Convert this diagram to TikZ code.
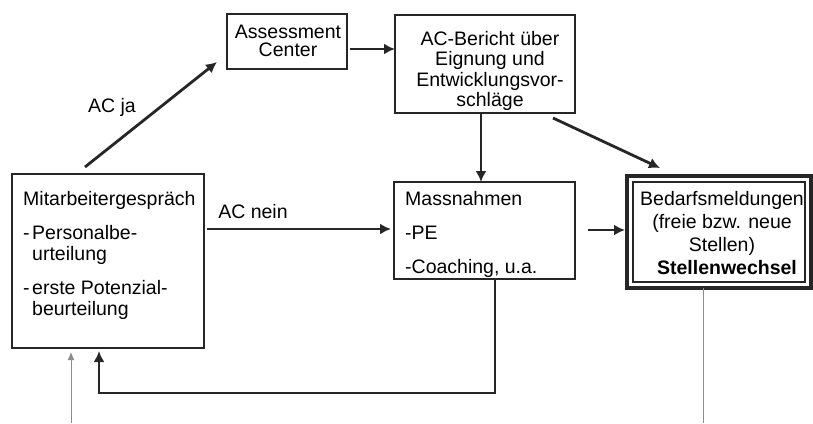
\documentclass[tikz,border=0pt]{standalone}
\usepackage{fontspec}
\setmainfont{Liberation Sans}
\usetikzlibrary{calc,arrows.meta}
\begin{document}
\begin{tikzpicture}[x=1pt,y=-1pt,
  box/.style={draw=black!85,line width=2.2pt,inner sep=0pt,outer sep=0pt,anchor=north west},
  txt/.style={inner sep=0pt,font=\fontsize{19.5}{21}\selectfont},
  arr/.style={draw=black!85,line width=2.8pt,-{Latex[length=11pt,width=11pt]}},
  garr/.style={draw=black!45,line width=1pt,-{Latex[length=8pt,width=7pt]}},
  gline/.style={draw=black!45,line width=1pt}]
\useasboundingbox (0,0) rectangle (813,423);
% boxes
\node[box,minimum width=192pt,minimum height=174pt] (mit) at (12,174) {};
\node[box,minimum width=120pt,minimum height=55pt] (ac) at (227,14) {};
\node[box,minimum width=180pt,minimum height=98pt] (ber) at (395,15) {};
\node[box,minimum width=181pt,minimum height=97pt] (mas) at (394,182) {};
\node[box,line width=3.4pt,minimum width=184pt,minimum height=112pt] (bed) at (627,176) {};
\draw[draw=black!85,line width=1.2pt] ($(bed.south west)+(6,-6)$) rectangle ($(bed.north east)+(-6,6)$);
% texts (anchor = baseline of the last line)
\node[txt,anchor=base west,align=left] (mitT) at (23,315)
  {Mitarbeitergespräch\\[13pt]\makebox[9pt][l]{-}Personalbe-\\\hspace*{9pt}urteilung\\[13pt]\makebox[9pt][l]{-}erste Potenzial-\\\hspace*{9pt}beurteilung};
\node[txt,anchor=base,align=center,font=\fontsize{19.5}{18}\selectfont] (acT) at (288,56) {Assessment\\Center};
\node[txt,anchor=base,align=center,font=\fontsize{19.5}{20.5}\selectfont] (berT) at (490,106.5) {AC-Bericht über\\Eignung und\\Entwicklungsvor-\\schläge};
\node[txt,anchor=base west,align=left] (masT) at (405,273) {Massnahmen\\[13pt]-PE\\[13pt]-Coaching, u.a.};
\node[txt,anchor=base,align=center,font=\fontsize{19.5}{23}\selectfont] (bedT) at (722,274) {Bedarfsmeldungen\\(freie bzw. neue\\Stellen)\\\hspace*{10pt}\textbf{Stellenwechsel}};
\node[txt] (acja) at (112,107) {AC ja};
\node[txt] (acnein) at (253,212) {AC nein};
% connectors
\draw[arr] ($(mit.north west)+(73,-7)$) -- ($(ac.south west)+(-10,-7)$);
\coordinate (p1) at ($(ac.east)+(3,7.5)$);
\draw[arr] (p1) -- (p1 -| ber.west);
\draw[arr] ($(ber.south)+(-4,0)$) -- ($(mas.north)+(-3.5,0)$);
\draw[arr] ($(ber.south east)+(-22,5)$) -- ($(bed.north west)+(33,-8)$);
\coordinate (p2) at ($(mit.east)+(3,-32)$);
\draw[arr] (p2) -- ($(p2 -| mas.west)+(-3,0)$);
\coordinate (p3) at ($(mas.east)+(13,-0.5)$);
\draw[arr] (p3) -- ($(p3 -| bed.west)+(-2,0)$);
\draw[arr] ($(mas.south)+(10.5,0)$) |- ($(mit.south west)+(87,45)$) -- ($(mit.south west)+(87,3)$);
\draw[garr] ($(mit.south west)+(59,75)$) -- ($(mit.south west)+(59,4)$);
\draw[gline] ($(bed.south west)+(76,0)$) -- ($(bed.south west)+(76,135)$);
\end{tikzpicture}
\end{document}
